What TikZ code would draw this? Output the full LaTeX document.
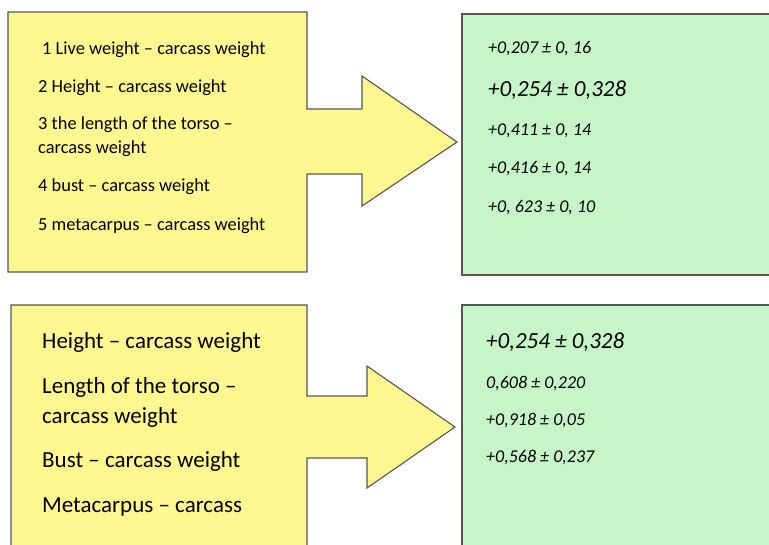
\documentclass[tikz,border=0pt]{standalone}
\usepackage{fontspec}
\setmainfont{Carlito}
\usepackage{xcolor}
\definecolor{boxyellow}{RGB}{255,248,145}
\definecolor{boxgreen}{RGB}{198,246,200}
\definecolor{edgegray}{RGB}{85,85,85}

\begin{document}
\begin{tikzpicture}[x=1pt, y=-1pt,
    shape box/.style={draw=edgegray, line width=1.1pt, line join=miter},
    lbl/.style={anchor=base west, inner sep=0pt, font=\fontsize{18.4}{22}\selectfont},
    biglbl/.style={lbl, font=\fontsize{23}{28}\selectfont},
    val/.style={lbl, font=\fontsize{18}{22}\selectfont\itshape},
    bigval/.style={lbl, font=\fontsize{23}{28}\selectfont\itshape}]
    \clip (0,0) rectangle (769,544);

    % upper row
    \draw[shape box, fill=boxyellow] (8,12) -- (307,12) -- (307,109) -- (362,109) -- (362,76)
        -- (457,142) -- (362,206) -- (362,174) -- (307,174) -- (307,272) -- (8,272) -- cycle;
    \draw[shape box, fill=boxgreen] (462,14) rectangle (790,275);

    \node[lbl] (up1) at (42,54) {1 Live weight – carcass weight};
    \node[lbl] (up2) at (38,92) {2 Height – carcass weight};
    \node[lbl] (up3) at (38,129) {3 the length of the torso –};
    \node[lbl] (up3b) at (38,153) {carcass weight};
    \node[lbl] (up4) at (38,191) {4 bust – carcass weight};
    \node[lbl] (up5) at (38,230) {5 metacarpus – carcass weight};

    \node[val] (upv1) at (488,53) {+0,207 ± 0, 16};
    \node[bigval] (upv2) at (488,96) {+0,254 ± 0,328};
    \node[val] (upv3) at (488,135) {+0,411 ± 0, 14};
    \node[val] (upv4) at (488,173) {+0,416 ± 0, 14};
    \node[val] (upv5) at (488,212) {+0, 623 ± 0, 10};

    % lower row
    \draw[shape box, fill=boxyellow] (11,305) -- (307,305) -- (307,396) -- (367,396) -- (367,366)
        -- (455,427) -- (367,488) -- (367,458) -- (307,458) -- (307,570) -- (11,570) -- cycle;
    \draw[shape box, fill=boxgreen] (462,305) rectangle (790,570);

    \node[biglbl] (lo1) at (42,348) {Height – carcass weight};
    \node[biglbl] (lo2) at (42,393) {Length of the torso –};
    \node[biglbl] (lo2b) at (42,423) {carcass weight};
    \node[biglbl] (lo3) at (42,467) {Bust – carcass weight};
    \node[biglbl] (lo4) at (42,512) {Metacarpus – carcass};

    \node[bigval] (lov1) at (486,348) {+0,254 ± 0,328};
    \node[val] (lov2) at (486,388) {0,608 ± 0,220};
    \node[val] (lov3) at (486,425) {+0,918 ± 0,05};
    \node[val] (lov4) at (486,462) {+0,568 ± 0,237};
\end{tikzpicture}
\end{document}
